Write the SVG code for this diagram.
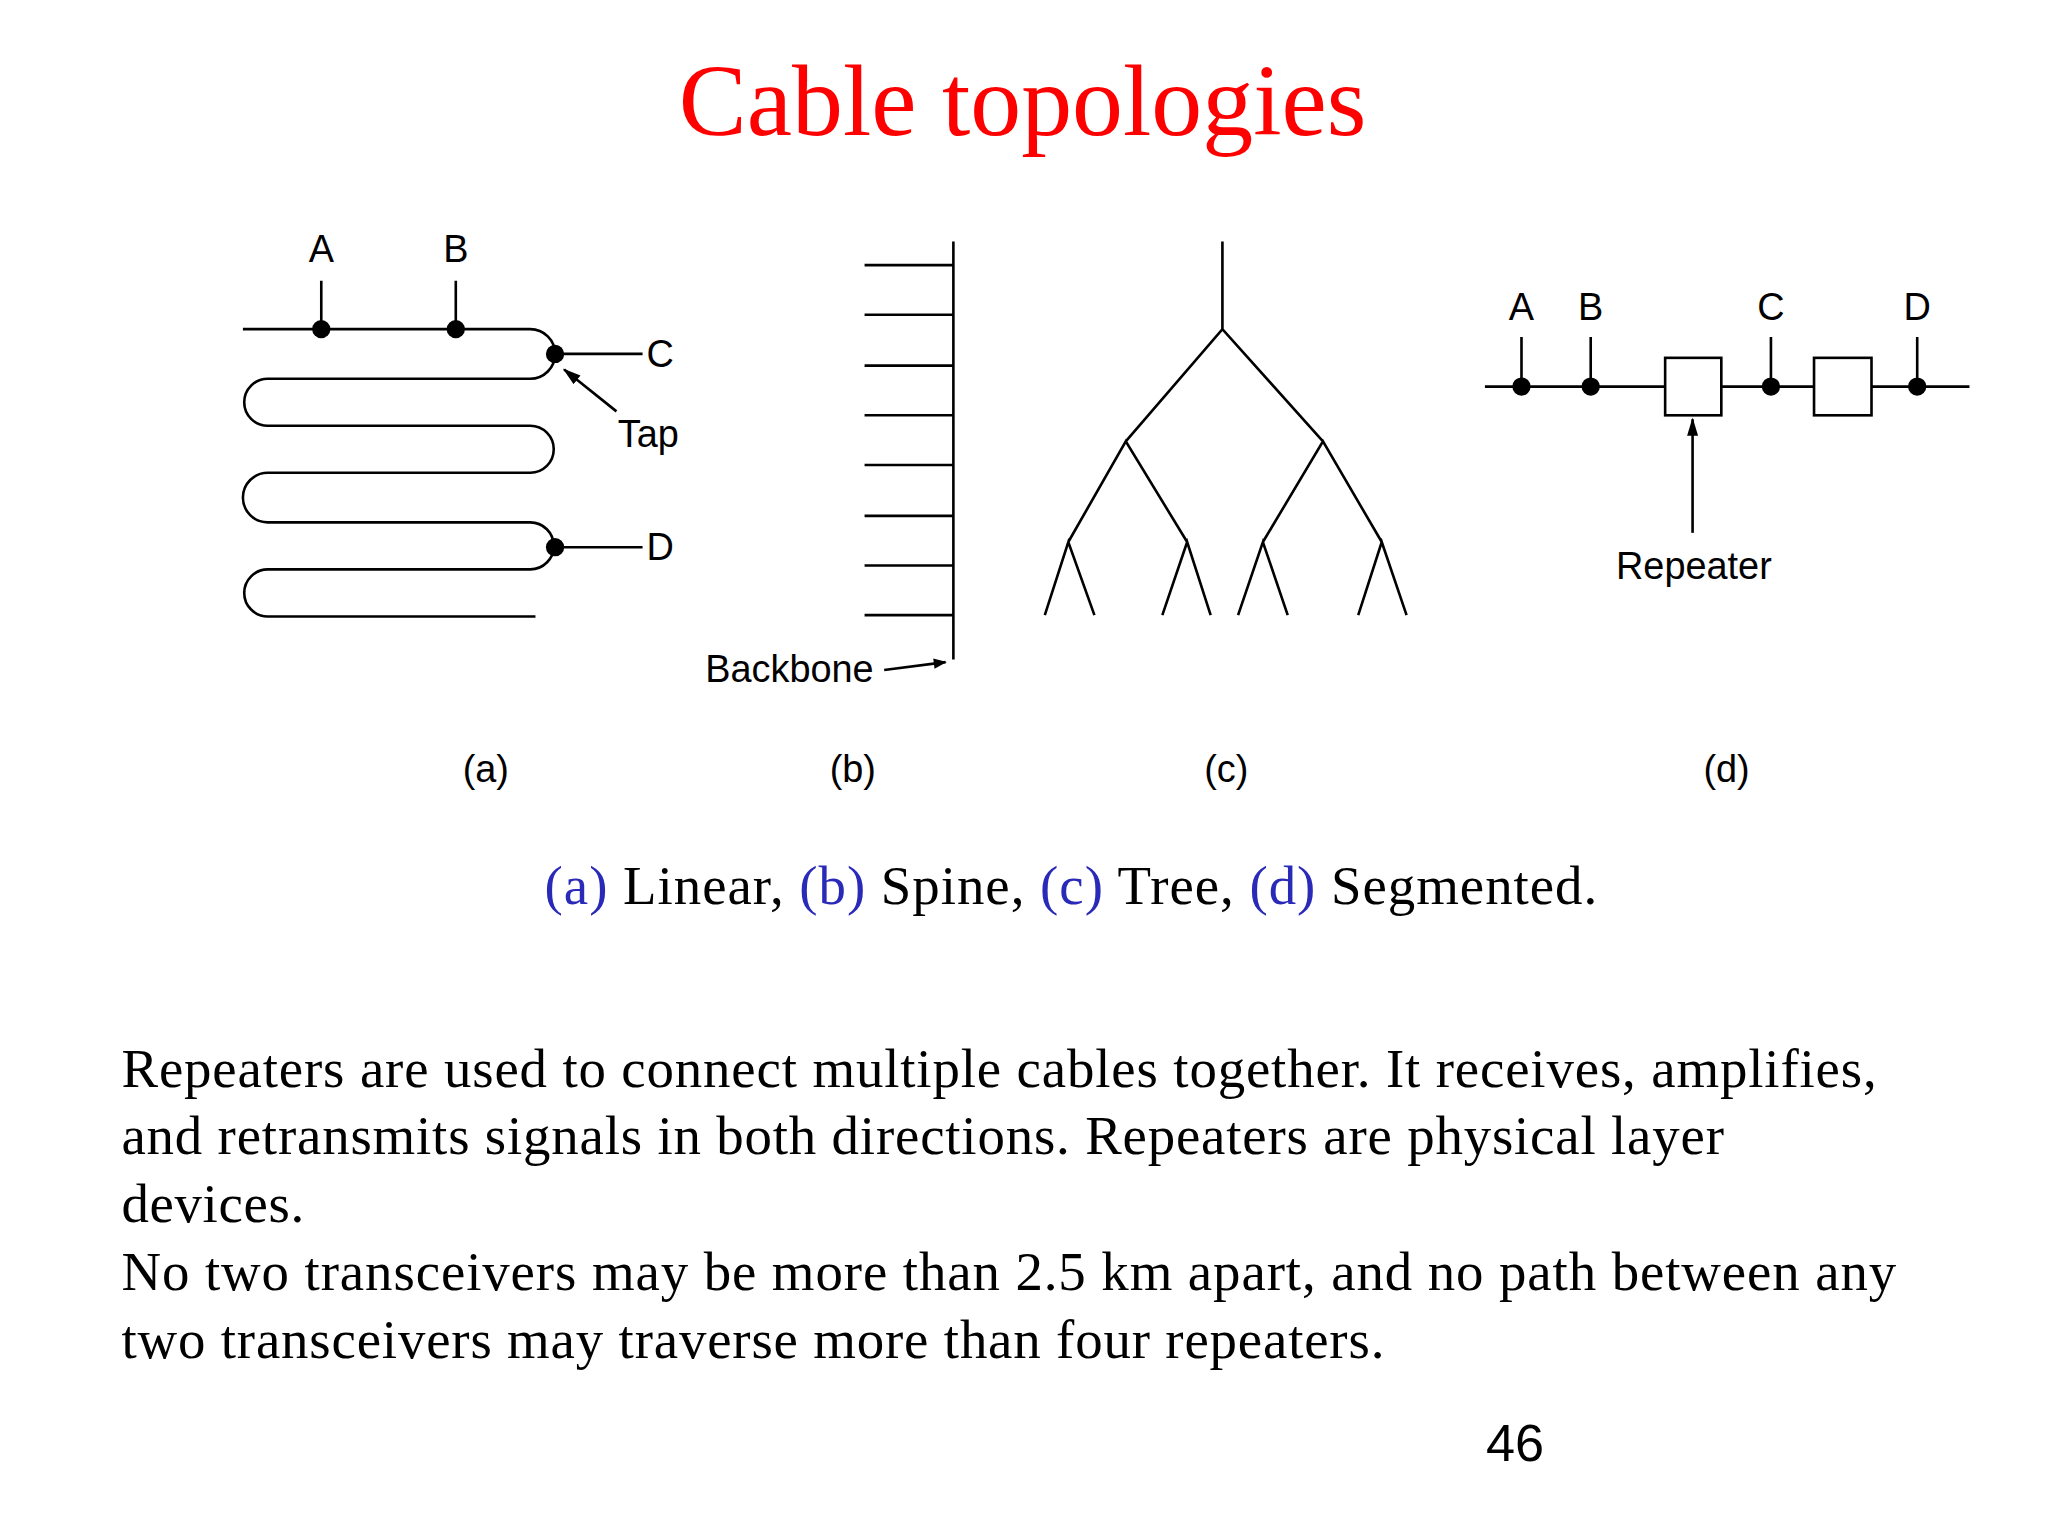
<svg xmlns="http://www.w3.org/2000/svg" width="2048" height="1536" viewBox="0 0 2048 1536">
<style>
.l{stroke:#000;stroke-width:2;fill:none}
.s{font-family:"Liberation Sans",Arial,sans-serif;font-size:29px;fill:#000}
.t{font-family:"Liberation Serif","Times New Roman",serif;font-size:42px;fill:#000}
.b{fill:#2a2ab8}
</style>
<defs><marker id="ar" viewBox="0 0 10 10" refX="9" refY="5" markerWidth="12" markerHeight="10" orient="auto" markerUnits="userSpaceOnUse"><path d="M0,1 L10,5 L0,9 z" fill="#000"/></marker>
<marker id="ar2" viewBox="0 0 10 10" refX="9" refY="5" markerWidth="14" markerHeight="14" orient="auto" markerUnits="userSpaceOnUse"><path d="M0,2 L10,5 L0,8 z" fill="#000"/></marker></defs>
<rect width="2048" height="1536" fill="#fff"/>
<g transform="scale(1.306)">
<text x="783" y="103" text-anchor="middle" font-family="Liberation Serif,serif" font-size="78" fill="#f00">Cable topologies</text>
<g id="a">
<path class="l" d="M186,252 H406 A19,19 0 0 1 406,290 H205 A18,18 0 0 0 205,326 H406 A18,18 0 0 1 406,362 H205 A19,19 0 0 0 205,400 H406 A18,18 0 0 1 406,436 H205 A18,18 0 0 0 205,472 H410"/>
<path class="l" d="M246,215V252M349,215V252M425,271H492M425,419H492"/>
<circle cx="246" cy="252" r="7"/><circle cx="349" cy="252" r="7"/><circle cx="425" cy="271" r="7"/><circle cx="425" cy="419" r="7"/>
<line class="l" x1="472" y1="315" x2="432" y2="283" marker-end="url(#ar2)"/>
<text class="s" x="246" y="201" text-anchor="middle">A</text>
<text class="s" x="349" y="201" text-anchor="middle">B</text>
<text class="s" x="495" y="281">C</text>
<text class="s" x="495" y="429">D</text>
<text class="s" x="473" y="342">Tap</text>
<text class="s" x="372" y="599" text-anchor="middle">(a)</text>
</g>
<g id="b">
<path class="l" d="M730,185V505" stroke-width="3"/>
<path class="l" d="M662,203H730M662,241H730M662,280H730M662,318H730M662,356H730M662,395H730M662,433H730M662,471H730"/>
<line class="l" x1="677" y1="513" x2="724" y2="507" marker-end="url(#ar)"/>
<text class="s" x="540" y="522">Backbone</text>
<text class="s" x="653" y="599" text-anchor="middle">(b)</text>
</g>
<g id="c">
<path class="l" d="M936,185V252M862,338L936,252L1013,338M818,415L862,338L909,415M967,415L1013,338L1058,415M800,471L818,415L838,471M890,471L909,415L927,471M948,471L967,415L986,471M1040,471L1058,415L1077,471"/>
<text class="s" x="939" y="599" text-anchor="middle">(c)</text>
</g>
<g id="d">
<path class="l" d="M1137,296H1275M1318,296H1389M1433,296H1508M1165,258V296M1218,258V296M1356,258V296M1468,258V296"/>
<rect class="l" x="1275" y="274" width="43" height="44"/><rect class="l" x="1389" y="274" width="44" height="44"/>
<circle cx="1165" cy="296" r="7"/><circle cx="1218" cy="296" r="7"/><circle cx="1356" cy="296" r="7"/><circle cx="1468" cy="296" r="7"/>
<line class="l" x1="1296" y1="408" x2="1296" y2="321" marker-end="url(#ar2)"/>
<text class="s" x="1165" y="245" text-anchor="middle">A</text>
<text class="s" x="1218" y="245" text-anchor="middle">B</text>
<text class="s" x="1356" y="245" text-anchor="middle">C</text>
<text class="s" x="1468" y="245" text-anchor="middle">D</text>
<text class="s" x="1297" y="443" text-anchor="middle">Repeater</text>
<text class="s" x="1322" y="599" text-anchor="middle">(d)</text>
</g>
<text class="t" x="417" y="692" textLength="806" font-size="43"><tspan class="b">(a)</tspan> Linear, <tspan class="b">(b)</tspan> Spine, <tspan class="b">(c)</tspan> Tree, <tspan class="b">(d)</tspan> Segmented.</text>
<text class="t" x="93" y="832" textLength="1344">Repeaters are used to connect multiple cables together. It receives, amplifies,</text>
<text class="t" x="93" y="884" textLength="1227">and retransmits signals in both directions. Repeaters are physical layer</text>
<text class="t" x="93" y="936" textLength="140">devices.</text>
<text class="t" x="93" y="988" textLength="1359">No two transceivers may be more than 2.5 km apart, and no path between any</text>
<text class="t" x="93" y="1040" textLength="967">two transceivers may traverse more than four repeaters.</text>
<text x="1160" y="1119" text-anchor="middle" font-family="Liberation Sans,sans-serif" font-size="40">46</text>
</g>
</svg>
